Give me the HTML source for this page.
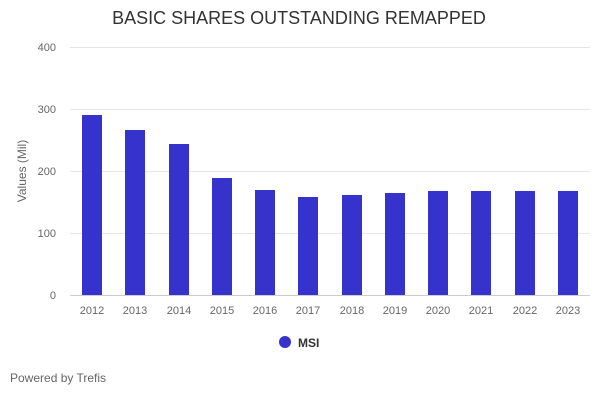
<!DOCTYPE html>
<html><head><meta charset="utf-8"><style>
body{margin:0;background:#fff;width:600px;height:400px;overflow:hidden;font-family:"Liberation Sans",sans-serif}
</style></head><body>
<svg width="600" height="400" xmlns="http://www.w3.org/2000/svg" font-family="Liberation Sans, sans-serif">
<text x="299" y="24" text-anchor="middle" font-size="18" fill="#333">BASIC SHARES OUTSTANDING REMAPPED</text>
<g stroke="#e6e6e6" stroke-width="1">
<line x1="70" x2="590" y1="47.5" y2="47.5"/>
<line x1="70" x2="590" y1="109.5" y2="109.5"/>
<line x1="70" x2="590" y1="171.5" y2="171.5"/>
<line x1="70" x2="590" y1="233.5" y2="233.5"/>
<line x1="70" x2="590" y1="295.5" y2="295.5" stroke="#ccc"/>
</g>
<g font-size="11" fill="#666" text-anchor="end">
<text x="56" y="51">400</text><text x="56" y="113">300</text><text x="56" y="175">200</text><text x="56" y="237">100</text><text x="56" y="299">0</text>
</g>
<text transform="translate(26,171) rotate(-90)" text-anchor="middle" font-size="12" fill="#666">Values (Mil)</text>
<g fill="#3632cc">
<rect x="82" y="115" width="20" height="180"/>
<rect x="125" y="130" width="20" height="165"/>
<rect x="169" y="144" width="20" height="151"/>
<rect x="212" y="178" width="20" height="117"/>
<rect x="255" y="190" width="20" height="105"/>
<rect x="298" y="197" width="20" height="98"/>
<rect x="342" y="195" width="20" height="100"/>
<rect x="385" y="193" width="20" height="102"/>
<rect x="428" y="191" width="20" height="104"/>
<rect x="471" y="191" width="20" height="104"/>
<rect x="515" y="191" width="20" height="104"/>
<rect x="558" y="191" width="20" height="104"/>
</g>
<g font-size="11" fill="#666" text-anchor="middle">
<text x="92" y="314">2012</text><text x="135" y="314">2013</text><text x="179" y="314">2014</text><text x="222" y="314">2015</text><text x="265" y="314">2016</text><text x="308" y="314">2017</text><text x="352" y="314">2018</text><text x="395" y="314">2019</text><text x="438" y="314">2020</text><text x="481" y="314">2021</text><text x="525" y="314">2022</text><text x="568" y="314">2023</text>
</g>
<circle cx="285" cy="342" r="6" fill="#3632cc"/>
<text x="298" y="347" font-size="12" font-weight="bold" fill="#333">MSI</text>
<text x="10" y="382" font-size="12" fill="#666">Powered by Trefis</text>
</svg>
</body></html>
